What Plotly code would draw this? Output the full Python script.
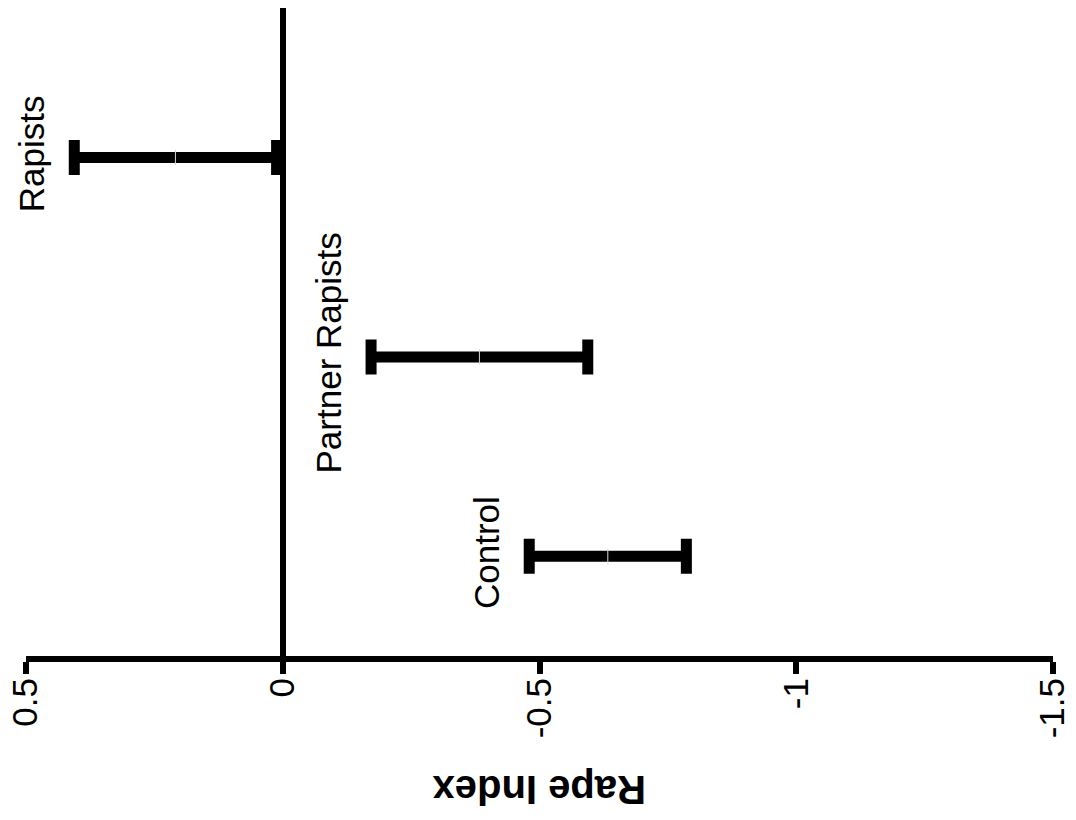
import plotly.graph_objects as go

# Data
groups = ["Rapists", "Partner Rapists", "Control"]
group_pos = [2, 1, 0]
means = [0.209, -0.383, -0.633]
errors = [0.197, 0.211, 0.153]

tick_vals = [0.5, 0, -0.5, -1, -1.5]
tick_text = ["0.5", "0", "-0.5", "-1", "-1.5"]

FONT = "Liberation Sans, Arial, sans-serif"

fig = go.Figure()
fig.add_trace(go.Scatter(
    x=means, y=group_pos, mode="markers",
    marker=dict(symbol="line-ns", size=11, color="#d8d8d8",
                line=dict(color="#d8d8d8", width=1)),
    error_x=dict(type="data", array=errors, symmetric=True,
                 color="black", thickness=11, width=17.5),
    showlegend=False, hoverinfo="skip",
))

for g, m, e, p in zip(groups, means, errors, group_pos):
    fig.add_annotation(
        x=m + e, y=p, xref="x", yref="y", text=g, showarrow=False,
        textangle=-90, xanchor="right", yanchor="middle",
        xshift=-21, yshift=4,
        font=dict(family=FONT, size=35, color="black"),
    )

fig.add_annotation(
    x=0.5, y=0, xref="paper", yref="paper", text="<b>Rape Index</b>",
    showarrow=False, textangle=180, xanchor="center", yanchor="middle",
    yshift=-134, font=dict(family=FONT, size=40, color="black"),
)

fig.update_layout(
    width=1076, height=820,
    margin=dict(l=26, r=23, t=8, b=164),
    paper_bgcolor="white", plot_bgcolor="white",
    font=dict(family=FONT, color="black"),
    xaxis=dict(
        range=[0.5, -1.5], tickvals=tick_vals, ticktext=tick_text,
        tickangle=-90, tickfont=dict(family=FONT, size=35, color="black"),
        ticks="outside", ticklen=12, tickwidth=6, tickcolor="black",
        ticklabelstandoff=-10, automargin=False,
        showline=True, linewidth=6, linecolor="black",
        showgrid=False, zeroline=True, zerolinewidth=6, zerolinecolor="black",
    ),
    yaxis=dict(range=[-0.5, 2.75], visible=False, showgrid=False, zeroline=False),
)

fig.write_html("out.html")
